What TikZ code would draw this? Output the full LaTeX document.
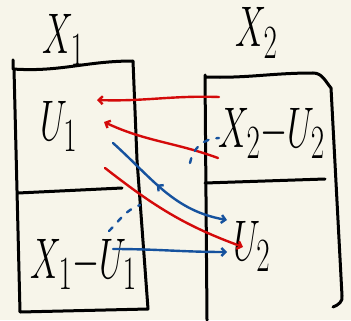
\documentclass[tikz,border=0pt]{standalone}
\usepackage{amsmath}
\usepackage{tikz}
\usetikzlibrary{arrows.meta, decorations.markings}
\definecolor{paper}{RGB}{247,245,234}
\definecolor{inkred}{RGB}{212,10,10}
\definecolor{inkblue}{RGB}{22,82,158}
\tikzset{
    boxline/.style={line width=1.5pt, line cap=round, line join=round, draw=black},
    handtext/.style={font=\Huge, inner sep=0pt, xscale=0.7, yscale=1.15},
    redarrow/.style={-{Straight Barb[length=2pt,width=4pt]}, line width=1.2pt, line cap=round, draw=inkred},
    bluearrow/.style={-{Straight Barb[length=2pt,width=4pt]}, line width=1.2pt, line cap=round, draw=inkblue},
    bluedash/.style={line width=1.2pt, line cap=round, draw=inkblue, dash pattern=on 2.5pt off 4pt},
    backtick/.style={postaction={decorate, decoration={markings,
        mark=at position 0.48 with {\arrow{Straight Barb[length=2pt,width=4pt,reversed]}}}}}
}

\begin{document}
\begin{tikzpicture}[x=0.5pt, y=-0.5pt]
    \fill[paper] (0,0) rectangle (351,320);
    \useasboundingbox (0,0) rectangle (351,320);

    % set headings
    \node[handtext, anchor=base west] (x1head) at (42,54) {$X_1$};
    \node[handtext, anchor=base west] (x2head) at (235,47) {$X_2$};

    % left box with divider
    \draw[boxline] (13,60) -- (13,69) to[out=-4,in=180] (133,61) -- (137,160) -- (148,309)
        -- (20,312) -- (14,69);
    \draw[boxline] (18,193) -- (122,188);

    % right box with divider
    \draw[boxline] (207,320) -- (205,75) -- (205,77) to[out=-2,in=180] (313,73)
        to[out=0,in=130] (331,88) -- (342,296) to[out=-80,in=20] (333,307);
    \draw[boxline] (205,183) -- (325,179);

    % parts
    \node[handtext, anchor=base west] (u1) at (40,140) {$U_1$};
    \node[handtext, anchor=base west] (x1u1) at (30,278) {$X_1{-}U_1$};
    \node[handtext, anchor=base west] (x2u2) at (218,147) {$X_2{-}U_2$};
    \node[handtext, anchor=base west] (u2) at (233,260) {$U_2$};

    % arrow ends
    \coordinate (r1s) at (219,97);
    \coordinate (r1e) at (97,100);
    \coordinate (r2s) at (218,158);
    \coordinate (r2e) at (104,122);
    \coordinate (r3s) at (105,168);
    \coordinate (r3e) at (243,247);
    \coordinate (b1s) at (113,143);
    \coordinate (b1e) at (227,220);
    \coordinate (b2s) at (113,249);
    \coordinate (b2e) at (227,252);
    \coordinate (d1s) at (109,231);
    \coordinate (d1e) at (140,205);
    \coordinate (d2s) at (190,163);
    \coordinate (d2e) at (219,138);

    % red maps
    \draw[redarrow] (r1s) to[out=178,in=-2] (r1e);
    \draw[redarrow] (r2s) to[out=160,in=-25] (r2e);
    \draw[redarrow] (r3s) to[out=-38,in=160] (r3e);

    % blue maps
    \draw[bluearrow, backtick] (b1s) to[out=-42,in=170] (b1e);
    \draw[bluearrow] (b2s) to[out=0,in=180] (b2e);
    \draw[bluedash] (d1s) to[out=45,in=200] (d1e);
    \draw[bluedash] (d2s) to[out=80,in=180] (d2e);
\end{tikzpicture}
\end{document}
